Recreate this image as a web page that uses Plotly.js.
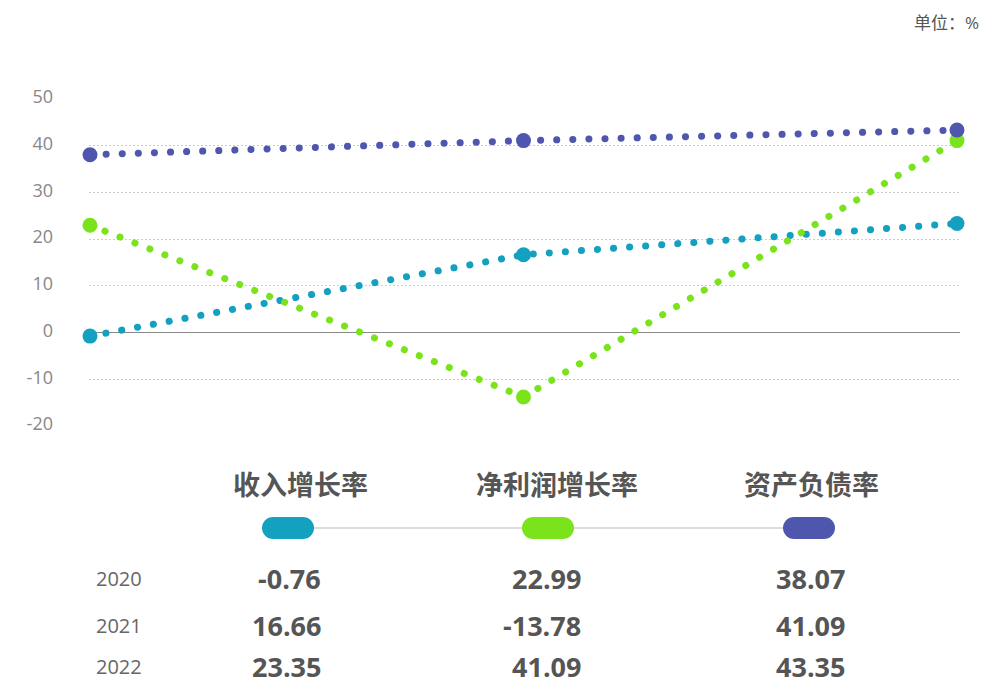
<!DOCTYPE html>
<html>
<head>
<meta charset="utf-8">
<script src="https://cdn.plot.ly/plotly-3.0.1.min.js"></script>
<style>
html,body{margin:0;padding:0;background:#fff;}
#chart{width:984px;height:683px;}
.js-line{stroke-linecap:round !important;}
.shapelayer path{stroke-linecap:round !important;}
</style>
</head>
<body>
<div id="chart"></div>
<script>
// ---- data ----
const years = [2020, 2021, 2022];
const seriesNames = ['收入增长率', '净利润增长率', '资产负债率'];
const revenueGrowth = [-0.76, 16.66, 23.35];
const profitGrowth = [22.99, -13.78, 41.09];
const debtRatio = [38.07, 41.09, 43.35];
const yTicks = [-20, -10, 0, 10, 20, 30, 40, 50];
const unitLabel = '单位：%';

const colors = ['#14a1c0', '#7be31b', '#4e57ad'];
const seriesValues = [revenueGrowth, profitGrowth, debtRatio];

// ---- layout helpers (pixel -> paper) ----
const W = 984, H = 683;
const M = {l: 89, r: 24, t: 99, b: 257};
const PW = W - M.l - M.r, PH = H - M.t - M.b;
const px = x => (x - M.l) / PW;
const py = y => (H - M.b - y) / PH;

const CJK = '"Open Sans", "Noto Sans CJK SC", sans-serif';

const traces = seriesValues.map((vals, i) => ({
  type: 'scatter',
  mode: 'lines+markers',
  x: years,
  y: vals,
  name: seriesNames[i],
  line: {color: colors[i], width: 7, dash: '0.1px,16px'},
  marker: {color: colors[i], size: 15},
  cliponaxis: false,
  hoverinfo: 'x+y'
}));

const annotations = [];
annotations.push({
  text: unitLabel, xref: 'paper', yref: 'paper',
  x: px(981), y: py(22), xanchor: 'right', yanchor: 'middle',
  showarrow: false, font: {family: CJK, size: 17, color: '#555'}
});
const colCenters = [300, 557, 811];
const pillCenters = [288, 548, 809];
const valueRights = [322, 582, 846];
const rowYs = [578, 625, 666];
seriesNames.forEach((n, i) => {
  annotations.push({
    text: '<b>' + n + '</b>', xref: 'paper', yref: 'paper',
    x: px(colCenters[i]), y: py(485), xanchor: 'center', yanchor: 'middle',
    showarrow: false, font: {family: CJK, size: 27, color: '#555'}
  });
});
years.forEach((yr, r) => {
  annotations.push({
    text: String(yr), xref: 'paper', yref: 'paper',
    x: px(119), y: py(rowYs[r]), xanchor: 'center', yanchor: 'middle',
    showarrow: false, borderpad: 0, font: {family: CJK, size: 20, color: '#666'}
  });
  seriesValues.forEach((vals, i) => {
    annotations.push({
      text: '<b>' + vals[r].toFixed(2) + '</b>', xref: 'paper', yref: 'paper',
      x: px(valueRights[i]), y: py(rowYs[r]), xanchor: 'right', yanchor: 'middle',
      showarrow: false, borderpad: 0, font: {family: CJK, size: 27, color: '#555'}
    });
  });
});

const shapes = [];
shapes.push({
  type: 'line', xref: 'paper', yref: 'paper',
  x0: px(pillCenters[0]), x1: px(pillCenters[2]), y0: py(528), y1: py(528),
  line: {color: '#bbbbbb', width: 1.2}
});
pillCenters.forEach((c, i) => {
  shapes.push({
    type: 'line', xref: 'paper', yref: 'paper',
    x0: px(c - 15), x1: px(c + 15), y0: py(528), y1: py(528),
    line: {color: colors[i], width: 22}
  });
});

const layout = {
  width: W, height: H, autosize: false,
  margin: M,
  paper_bgcolor: '#fff', plot_bgcolor: '#fff',
  showlegend: false,
  xaxis: {
    type: 'linear',
    range: [2020 - 1/433.5, 2022 + 3/433.5],
    showgrid: false, zeroline: false, showticklabels: false, showline: false, ticks: ''
  },
  yaxis: {
    range: [-20, 50],
    tickvals: yTicks,
    ticktext: yTicks.map(String),
    showgrid: true, gridcolor: '#cccccc', gridwidth: 1, griddash: '2px,2px',
    zeroline: true, zerolinecolor: '#888888', zerolinewidth: 1,
    showline: false, ticks: '',
    tickfont: {family: CJK, size: 18, color: '#888'},
    ticklabelstandoff: 35,
    ticklabelshift: -2
  },
  annotations: annotations,
  shapes: shapes,
  hovermode: 'closest'
};

Plotly.newPlot('chart', traces, layout, {displayModeBar: false, responsive: false});
</script>
</body>
</html>
